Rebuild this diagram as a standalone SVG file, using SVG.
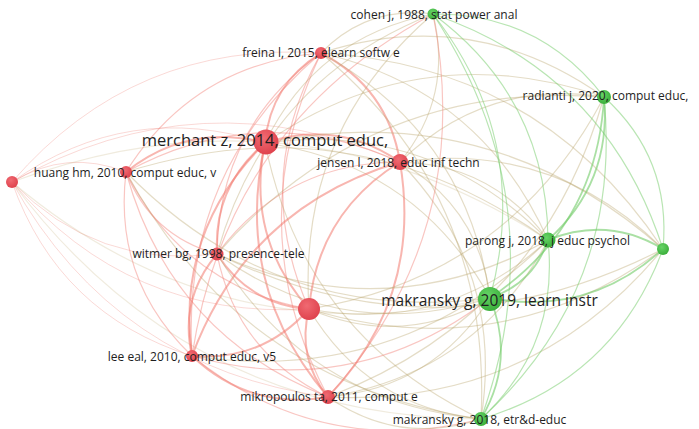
<svg xmlns="http://www.w3.org/2000/svg" width="699" height="429" viewBox="0 0 699 429">
<defs>
<radialGradient id="rg" cx="40%" cy="35%" r="70%"><stop offset="0" stop-color="#f06a72"/><stop offset="1" stop-color="#de404b"/></radialGradient>
<radialGradient id="gg" cx="40%" cy="35%" r="70%"><stop offset="0" stop-color="#66d466"/><stop offset="1" stop-color="#38ac38"/></radialGradient>
<style>
path{fill:none}
.f{stroke:#f08078;stroke-opacity:.3;stroke-width:1}
.r{stroke:#f28078;stroke-opacity:.45;stroke-width:1.2}
.R{stroke:#f27a70;stroke-opacity:.55;stroke-width:2}
.g{stroke:#80d075;stroke-opacity:.55;stroke-width:1.2}
.G{stroke:#72cb68;stroke-opacity:.6;stroke-width:1.8}
.m{stroke:#b9a468;stroke-opacity:.38;stroke-width:1.2}
.red{fill:url(#rg)}
.grn{fill:url(#gg)}
text{font-family:"Open Sans","Noto Sans","DejaVu Sans",sans-serif;font-size:12px;fill:#1e1e1e;text-anchor:middle}
.big{font-size:16.5px}
.big2{font-size:15.5px}
</style>
</defs>
<rect width="699" height="429" fill="#fff"/>
<g id="connectors">
<path class="f" d="M12 182 Q66.5 148.5 126 172"/>
<path class="f" d="M12 182 Q134.25 40.25 321 53"/>
<path class="f" d="M12 182 Q128.75 99.25 265 143"/>
<path class="f" d="M12 182 Q201 75 400 162"/>
<path class="f" d="M12 182 Q96.5 269.25 217 254"/>
<path class="f" d="M12 182 Q128.75 319.75 309 309"/>
<path class="f" d="M12 182 Q58.5 314 192 356"/>
<path class="f" d="M12 182 Q116.25 368.5 328 397"/>
<path class="m" style="stroke-opacity:.22" d="M12 182 Q294.5 77 548 240"/>
<path class="m" style="stroke-opacity:.22" d="M12 182 Q222 359.5 490 298"/>
<path class="m" style="stroke-opacity:.22" d="M12 182 Q187.25 417.75 481 419"/>
<path class="r" d="M126 172 Q193.75 63.75 321 53"/>
<path class="R" d="M126 172 Q188.25 122.75 265 143"/>
<path class="r" d="M126 172 Q260.5 98.5 400 162"/>
<path class="r" d="M126 172 Q151 235.75 217 254"/>
<path class="r" d="M126 172 Q183.25 286.25 309 309"/>
<path class="r" d="M126 172 Q113 280.5 192 356"/>
<path class="r" d="M126 172 Q170.75 335 328 397"/>
<path class="m" d="M126 172 Q354 100.5 548 240"/>
<path class="m" d="M126 172 Q276.5 326 490 298"/>
<path class="m" d="M126 172 Q241.75 384.25 481 419"/>
<path class="R" d="M321 53 Q270.5 84 265 143"/>
<path class="R" d="M321 53 Q387.75 87.75 400 162"/>
<path class="r" d="M321 53 Q218.75 127.5 217 254"/>
<path class="r" d="M321 53 Q251 178 309 309"/>
<path class="r" d="M321 53 Q180.75 172.25 192 356"/>
<path class="r" d="M321 53 Q238.5 226.75 328 397"/>
<path class="m" d="M321 53 Q367.25 5.5 433 14"/>
<path class="m" d="M321 53 Q473.5 4.25 604 97"/>
<path class="m" d="M321 53 Q481.25 89.75 548 240"/>
<path class="m" d="M321 53 Q466.75 133.25 490 298"/>
<path class="m" d="M321 53 Q492.5 196 481 419"/>
<path class="m" d="M321 53 Q541 65.5 663 249"/>
<path class="R" d="M265 143 Q337.25 118.75 400 162"/>
<path class="R" d="M265 143 Q213.25 186.5 217 254"/>
<path class="R" d="M265 143 Q245.5 237 309 309"/>
<path class="R" d="M265 143 Q175.25 231.25 192 356"/>
<path class="R" d="M265 143 Q233 285.75 328 397"/>
<path class="m" d="M265 143 Q316.75 36.5 433 14"/>
<path class="m" d="M265 143 Q423 35.25 604 97"/>
<path class="m" d="M265 143 Q430.75 120.75 548 240"/>
<path class="m" d="M265 143 Q490.5 96.5 663 249"/>
<path class="m" d="M265 143 Q416.25 164.25 490 298"/>
<path class="m" d="M265 143 Q304 335 481 419"/>
<path class="r" d="M400 162 Q285.5 162.25 217 254"/>
<path class="R" d="M400 162 Q317.75 212.75 309 309"/>
<path class="R" d="M400 162 Q247.5 207 192 356"/>
<path class="R" d="M400 162 Q422.75 297.5 328 397"/>
<path class="m" d="M400 162 Q453.5 96.25 433 14"/>
<path class="m" d="M400 162 Q485.75 78.5 604 97"/>
<path class="m" d="M400 162 Q493.5 164 548 240"/>
<path class="m" d="M400 162 Q553.25 139.75 663 249"/>
<path class="m" d="M400 162 Q479 207.5 490 298"/>
<path class="m" d="M400 162 Q504.75 270.25 481 419"/>
<path class="R" d="M217 254 Q249.25 304.5 309 309"/>
<path class="R" d="M217 254 Q179 298.75 192 356"/>
<path class="r" d="M217 254 Q236.75 353.25 328 397"/>
<path class="m" d="M217 254 Q265 80 433 14"/>
<path class="m" d="M217 254 Q371.25 78.75 604 97"/>
<path class="m" d="M217 254 Q386 329.75 548 240"/>
<path class="m" d="M217 254 Q441.25 363 663 249"/>
<path class="m" d="M217 254 Q342.5 344.25 490 298"/>
<path class="m" d="M217 254 Q307.75 402.5 481 419"/>
<path class="R" d="M309 309 Q262.25 361.75 192 356"/>
<path class="R" d="M309 309 Q296.5 357.75 328 397"/>
<path class="m" d="M309 309 Q297.25 130.5 433 14"/>
<path class="m" d="M309 309 Q509.5 276.75 604 97"/>
<path class="m" d="M309 309 Q445.75 334.25 548 240"/>
<path class="m" d="M309 309 Q501 367.5 663 249"/>
<path class="m" d="M309 309 Q402.25 348.75 490 298"/>
<path class="m" d="M309 309 Q367.5 407 481 419"/>
<path class="R" d="M192 356 Q249.75 410.5 328 397"/>
<path class="r" d="M192 356 Q227 124.75 433 14"/>
<path class="m" d="M192 356 Q399 387 548 240"/>
<path class="r" d="M192 356 Q355.5 401.5 490 298"/>
<path class="r" d="M192 356 Q320.75 459.75 481 419"/>
<path class="r" d="M328 397 Q476.25 231.75 433 14"/>
<path class="m" d="M328 397 Q541 316 604 97"/>
<path class="m" d="M328 397 Q477.25 373.5 548 240"/>
<path class="m" d="M328 397 Q532.5 406.75 663 249"/>
<path class="m" d="M328 397 Q433.75 388 490 298"/>
<path class="m" d="M328 397 Q399 446.25 481 419"/>
<path class="g" d="M433 14 Q539.25 12.75 604 97"/>
<path class="g" d="M433 14 Q547 98.25 548 240"/>
<path class="g" d="M433 14 Q606.75 74 663 249"/>
<path class="g" d="M433 14 Q532.5 141.75 490 298"/>
<path class="g" d="M433 14 Q558.25 204.5 481 419"/>
<path class="G" d="M604 97 Q611.75 182.5 548 240"/>
<path class="g" d="M604 97 Q671.5 158.25 663 249"/>
<path class="G" d="M604 97 Q597.25 226 490 298"/>
<path class="g" d="M604 97 Q623 288.75 481 419"/>
<path class="G" d="M548 240 Q607.75 215.75 663 249"/>
<path class="G" d="M548 240 Q533.5 283.5 490 298"/>
<path class="g" d="M548 240 Q559.25 346.25 481 419"/>
<path class="G" d="M663 249 Q588.75 316.75 490 298"/>
<path class="g" d="M663 249 Q614.5 379.5 481 419"/>
<path class="G" d="M490 298 Q515.75 360.75 481 419"/>
</g>
<g id="n-farleft"><circle class="red" cx="12" cy="182" r="6"/></g>
<g id="n-huang"><circle class="red" cx="126" cy="172" r="6"/><text x="125" y="176.5">huang hm, 2010, comput educ, v</text></g>
<g id="n-freina"><circle class="red" cx="321" cy="53" r="6"/><text x="321" y="57">freina l, 2015, elearn softw e</text></g>
<g id="n-cohen"><circle class="grn" cx="433" cy="14" r="5.5"/><text x="434" y="18.5">cohen j, 1988, stat power anal</text></g>
<g id="n-merchant"><circle class="red" cx="266" cy="142" r="12.5"/><text class="big" x="265" y="146">merchant z, 2014, comput educ,</text></g>
<g id="n-jensen"><circle class="red" cx="400" cy="162" r="8"/><text x="398.5" y="166.5">jensen l, 2018, educ inf techn</text></g>
<g id="n-radianti"><circle class="grn" cx="604" cy="97" r="7"/><text x="605.5" y="99.5">radianti j, 2020, comput educ,</text></g>
<g id="n-witmer"><circle class="red" cx="217" cy="254" r="6.5"/><text x="218.5" y="257.5">witmer bg, 1998, presence-tele</text></g>
<g id="n-parong"><circle class="grn" cx="548" cy="240" r="7.5"/><text x="547.5" y="244.5">parong j, 2018, j educ psychol</text></g>
<g id="n-right"><circle class="grn" cx="663" cy="249" r="6"/></g>
<g id="n-unlabeled"><circle class="red" cx="309" cy="309" r="11"/></g>
<g id="n-makransky2019"><circle class="grn" cx="490" cy="299" r="12"/><text class="big2" x="489.5" y="306">makransky g, 2019, learn instr</text></g>
<g id="n-lee"><circle class="red" cx="192" cy="356" r="6"/><text x="192" y="360.5">lee eal, 2010, comput educ, v5</text></g>
<g id="n-mikropoulos"><circle class="red" cx="328" cy="397" r="7"/><text x="329" y="401">mikropoulos ta, 2011, comput e</text></g>
<g id="n-makransky2018"><circle class="grn" cx="481" cy="419" r="7"/><text x="479.5" y="423.5">makransky g, 2018, etr&amp;d-educ</text></g>
</svg>
